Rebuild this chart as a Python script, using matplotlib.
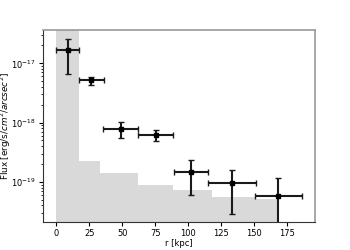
import numpy as np
import matplotlib
matplotlib.use('Agg')
import matplotlib.pyplot as plt

# gray background profile (step histogram)
bg_edges = [0, 17.6, 33.2, 62.2, 88.6, 117.6, 150.4, 168.2]
bg_flux = [1e-16, 2.24e-19, 1.39e-19, 9.0e-20, 7.4e-20, 5.5e-20, 5.1e-20]

# measured points
r = [8.8, 26.4, 48.8, 75.3, 101.7, 133.0, 168.2]
r_lo = [0.0, 17.6, 35.2, 62.2, 88.9, 115.0, 150.8]
r_hi = [17.6, 35.8, 62.2, 88.6, 115.0, 151.0, 186.3]
flux = [1.68e-17, 5.2e-18, 7.76e-19, 6.2e-19, 1.48e-19, 9.6e-20, 5.8e-20]
flux_up = [2.57e-17, 5.9e-18, 1.02e-18, 7.5e-19, 2.33e-19, 1.59e-19, 1.17e-19]
flux_down = [6.67e-18, 4.3e-18, 5.4e-19, 4.9e-19, 5.9e-20, 2.9e-20, 1e-22]

r = np.array(r)
flux = np.array(flux)
xerr = [r - np.array(r_lo), np.array(r_hi) - r]
yerr = [flux - np.array(flux_down), np.array(flux_up) - flux]

fig = plt.figure(figsize=(3.5, 2.5), dpi=100)
ax = fig.add_axes([0.123, 0.112, 0.777, 0.768])

ax.stairs(bg_flux, bg_edges, fill=True, color='#d9d9d9', baseline=1e-22)
ax.errorbar(r, flux, xerr=xerr, yerr=yerr, fmt='s', color='k', ecolor='#1a1a1a',
            markersize=3, elinewidth=1.5, capsize=2.5, capthick=1)

ax.set_yscale('log')
ax.set_xlim(-10, 196)
ax.set_ylim(2.1e-20, 3.65e-17)
ax.set_xticks([0, 25, 50, 75, 100, 125, 150, 175])
ax.tick_params(labelsize=6, width=0.8, length=3, pad=2)
ax.tick_params(which='minor', length=1.5)
ax.set_xlabel('r [kpc]', fontsize=6, labelpad=1)
ax.set_ylabel('Flux [erg/s/$cm^2/arcsec^2$]', fontsize=6.3)
ax.yaxis.set_label_coords(-0.112, 0.5)

for s in ['left', 'bottom']:
    ax.spines[s].set_color('#333333')
for s in ['top', 'right']:
    ax.spines[s].set_color('#999999')
    ax.spines[s].set_linewidth(1.2)

fig.savefig('out.png', dpi=100)
